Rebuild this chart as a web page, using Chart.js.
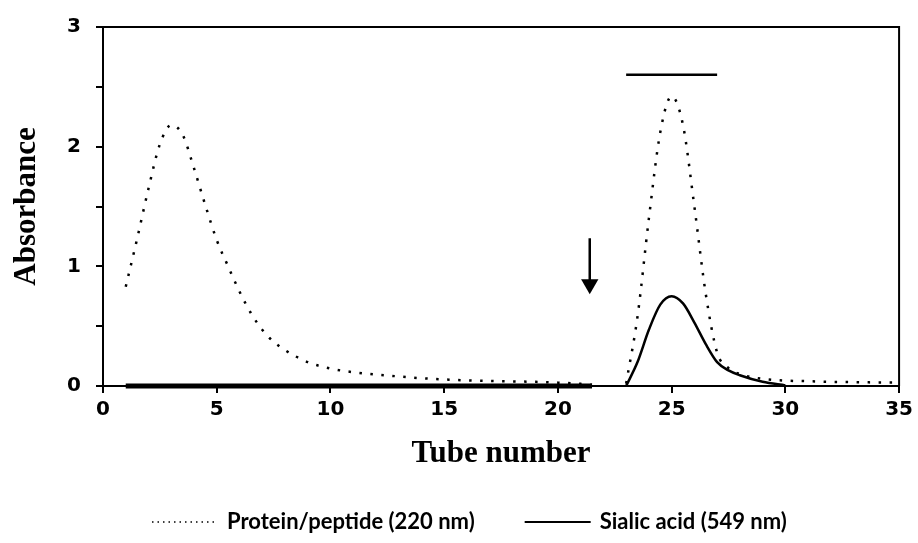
<!DOCTYPE html>
<html>
<head>
<meta charset="utf-8">
<script src="https://cdn.jsdelivr.net/npm/chart.js@4.4.1/dist/chart.umd.min.js"></script>
<style>
  body { margin: 0; background: #fff; }
</style>
</head>
<body>
<canvas id="tubeChart" width="918" height="543"></canvas>
<script>
// tube numbers and absorbance (null = gap in the trace)
const proteinTubes = [1, 1.5, 2, 2.5, 3, 3.5, 4, 4.5, 5, 5.5, 6, 6.5, 7, 7.5, 8,
    9, 10, 11, 12, 13, 14, 15, 16, 17, 18, 19, 20, 21, 21.5, 22,
    23, 23.5, 24, 24.5, 25, 25.5, 26, 26.5, 27, 27.5, 28,
    29, 30, 31, 32, 33, 34, 35];
const proteinAbs = [0.83, 1.23, 1.65, 2.02, 2.18, 2.10, 1.82, 1.51, 1.22, 1.00, 0.79, 0.61, 0.47, 0.37, 0.30,
    0.20, 0.146, 0.115, 0.095, 0.08, 0.065, 0.055, 0.047, 0.042, 0.038, 0.035, 0.028, 0.018, 0.01, null,
    0.02, 0.58, 1.40, 2.12, 2.42, 2.18, 1.50, 0.77, 0.28, 0.15, 0.10,
    0.06, 0.045, 0.04, 0.035, 0.032, 0.03, 0.03];

// sialic acid: flat zero over tubes 1-21.5, then the peak
const sialicBaseTubes = [1, 21.5];
const sialicBaseAbs = [0, 0];
const sialicTubes = [23, 23.5, 24, 24.5, 25, 25.5, 26, 26.5, 27, 27.5, 28, 29, 30];
const sialicAbs = [0, 0.20, 0.47, 0.68, 0.75, 0.69, 0.53, 0.35, 0.20, 0.13, 0.09, 0.035, 0.005];

// pooled fractions bar and the elution-change arrow
const poolTubes = [23, 27];
const poolLevel = 2.6;
const arrowTube = 21.4;
const arrowAbs = [1.235, 0.85];

const xTicks = [0, 5, 10, 15, 20, 25, 30, 35];
const yTicks = [0, 1, 2, 3];

const seriesLabels = ['Protein/peptide (220 nm)', 'Sialic acid (549 nm)'];

const toPoints = (xs, ys) => xs.map((x, i) => ({ x: x, y: ys[i] }));

Chart.defaults.font.family = 'DejaVu Sans';
Chart.defaults.color = '#000';

// top and right frame lines
const frame = {
    id: 'frame',
    afterDatasetsDraw(chart) {
        const { ctx, chartArea: a } = chart;
        ctx.save();
        ctx.strokeStyle = '#000';
        ctx.lineWidth = 2;
        ctx.beginPath();
        ctx.moveTo(a.left, a.top);
        ctx.lineTo(a.right, a.top);
        ctx.lineTo(a.right, a.bottom);
        ctx.stroke();
        ctx.restore();
    }
};

// legend under the axis title, like the original figure
const bottomLegend = {
    id: 'bottomLegend',
    afterDraw(chart) {
        const ctx = chart.ctx;
        const y = chart.height - 21;
        let x = 152;
        ctx.save();
        ctx.font = 'bold 22px Lato';
        ctx.textBaseline = 'middle';
        ctx.fillStyle = '#000';
        seriesLabels.forEach((label, i) => {
            ctx.strokeStyle = '#000';
            ctx.lineWidth = i === 0 ? 1.5 : 2;
            ctx.setLineDash(i === 0 ? [1.5, 4] : []);
            ctx.beginPath();
            ctx.moveTo(x, y);
            ctx.lineTo(x + 66, y);
            ctx.stroke();
            ctx.setLineDash([]);
            ctx.fillText(label, x + 75, y);
            x += 75 + ctx.measureText(label).width + 50;
        });
        ctx.restore();
    }
};

const ctx = document.getElementById('tubeChart').getContext('2d');
const tubeChart = new Chart(ctx, {
    type: 'line',
    data: {
        datasets: [
            {
                label: seriesLabels[0],
                data: toPoints(proteinTubes, proteinAbs),
                borderColor: '#000',
                borderWidth: 2.5,
                borderDash: [2.5, 8.5],
                pointRadius: 0,
                cubicInterpolationMode: 'monotone',
                spanGaps: false
            },
            {
                label: seriesLabels[1],
                data: toPoints(sialicTubes, sialicAbs),
                borderColor: '#000',
                borderWidth: 2.5,
                pointRadius: 0,
                cubicInterpolationMode: 'monotone'
            },
            {
                label: 'sialic baseline',
                data: toPoints(sialicBaseTubes, sialicBaseAbs),
                borderColor: '#000',
                borderWidth: 5,
                borderCapStyle: 'butt',
                pointRadius: 0,
                clip: false
            },
            {
                label: 'pool',
                data: poolTubes.map(x => ({ x: x, y: poolLevel })),
                borderColor: '#000',
                borderWidth: 2.5,
                pointRadius: 0
            },
            {
                label: 'arrow',
                data: arrowAbs.map(y => ({ x: arrowTube, y: y })),
                borderColor: '#000',
                borderWidth: 2.5,
                pointStyle: 'triangle',
                pointRotation: 180,
                pointRadius: [0, 10],
                pointBorderWidth: 0,
                pointBackgroundColor: '#000'
            }
        ]
    },
    options: {
        responsive: false,
        animation: false,
        layout: {
            padding: { top: 23, right: 18, bottom: 62, left: 0 }
        },
        plugins: {
            legend: { display: false },
            tooltip: { enabled: false }
        },
        scales: {
            x: {
                type: 'linear',
                min: 0,
                max: 35,
                afterBuildTicks: s => { s.ticks = xTicks.map(v => ({ value: v })); },
                afterFit: s => { s.height = 95; },
                ticks: {
                    font: { size: 20, weight: 'bold' },
                    padding: 5,
                    maxRotation: 0
                },
                grid: {
                    drawOnChartArea: false,
                    tickLength: 7,
                    lineWidth: 2,
                    color: '#000'
                },
                border: { display: true, width: 2, color: '#000' },
                title: {
                    display: true,
                    text: 'Tube number',
                    font: { family: 'Liberation Serif', size: 31, weight: 'bold' },
                    padding: { top: 0, bottom: 8 }
                }
            },
            y: {
                min: 0,
                max: 3,
                afterFit: s => { s.width = 103; },
                ticks: {
                    stepSize: 0.5,
                    font: { size: 20, weight: 'bold' },
                    padding: 15,
                    callback: v => yTicks.includes(v) ? v : ''
                },
                grid: {
                    drawOnChartArea: false,
                    tickLength: 7,
                    lineWidth: 2,
                    color: '#000'
                },
                border: { display: true, width: 2, color: '#000' },
                title: {
                    display: true,
                    text: 'Absorbance',
                    font: { family: 'Liberation Serif', size: 31, weight: 'bold' },
                    padding: { top: 8, bottom: 0 }
                }
            }
        }
    },
    plugins: [frame, bottomLegend]
});
</script>
</body>
</html>
